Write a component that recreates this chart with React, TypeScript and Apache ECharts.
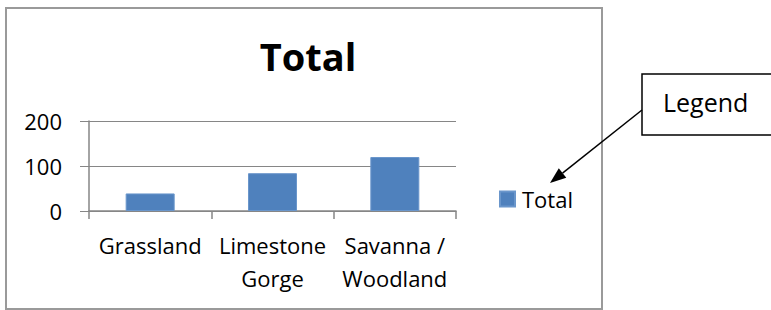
import React, { useEffect, useRef } from "react";
import * as echarts from "echarts";

const categories = ["Grassland", "Limestone\nGorge", "Savanna /\nWoodland"];
const totalValues = [39, 84, 120];
const seriesName = "Total";
const yMin = 0;
const yMax = 200;
const yInterval = 100;

const FONT = "'Open Sans', 'Noto Sans', sans-serif";

export default function App() {
  const ref = useRef<HTMLDivElement>(null);
  useEffect(() => {
    if (!ref.current) return;
    const chart = echarts.init(ref.current, undefined, { renderer: "svg" });
    const dx = 550 - 642;
    const dy = 183 - 110;
    const len = Math.sqrt(dx * dx + dy * dy);
    const ux = dx / len;
    const uy = dy / len;
    const headLen = 16;
    const headHalf = 6;
    const bx = 550 - headLen * ux;
    const by = 183 - headLen * uy;
    const nx = -uy;
    const ny = ux;
    chart.setOption({
      animation: false,
      textStyle: { fontFamily: FONT },
      title: {
        text: "Total",
        left: 303,
        top: 32,
        textAlign: "center",
        textStyle: { fontFamily: FONT, fontSize: 38, fontWeight: "bold", color: "#000" },
      },
      legend: {
        data: [seriesName],
        left: 499,
        top: 188,
        padding: 0,
        itemWidth: 15,
        itemHeight: 15,
        icon: "rect",
        itemGap: 0,
        textStyle: { fontFamily: FONT, fontSize: 22, color: "#000", padding: [0, 0, 0, 2] },
      },
      grid: { left: 89, right: 315, top: 121, bottom: 99, containLabel: false },
      xAxis: {
        type: "category",
        data: categories,
        axisLine: { lineStyle: { color: "#868686", width: 1.5 } },
        axisTick: { show: true, length: 8, lineStyle: { color: "#868686", width: 1.5 } },
        axisLabel: {
          fontFamily: FONT,
          fontSize: 22,
          color: "#000",
          margin: 17,
          lineHeight: 33,
          interval: 0,
        },
      },
      yAxis: {
        type: "value",
        min: yMin,
        max: yMax,
        interval: yInterval,
        axisLine: { show: true, lineStyle: { color: "#868686", width: 1.5 } },
        axisTick: { show: true, length: 9, lineStyle: { color: "#868686", width: 1 } },
        splitLine: { lineStyle: { color: "#868686", width: 1 } },
        axisLabel: { fontFamily: FONT, fontSize: 22, color: "#000", margin: 27 },
      },
      series: [
        {
          name: seriesName,
          type: "bar",
          data: totalValues,
          barWidth: 49,
          itemStyle: { color: "#4F81BD", borderColor: "#6a96cb", borderWidth: 1 },
        },
      ],
      graphic: [
        {
          type: "rect",
          shape: { x: 6, y: 8, width: 596, height: 301 },
          style: { fill: "none", stroke: "#9a9a9a", lineWidth: 2 },
          silent: true,
        },
        {
          type: "rect",
          shape: { x: 642, y: 74, width: 140, height: 61 },
          style: { fill: "#fff", stroke: "#000", lineWidth: 1.5 },
          silent: true,
        },
        {
          type: "text",
          x: 663,
          y: 102,
          style: {
            text: "Legend",
            fontFamily: FONT,
            fontSize: 25,
            fill: "#000",
            verticalAlign: "middle",
            align: "left",
          },
          silent: true,
        },
        {
          type: "line",
          shape: { x1: 642, y1: 110, x2: bx, y2: by },
          style: { stroke: "#000", lineWidth: 1.5 },
          silent: true,
        },
        {
          type: "polygon",
          shape: {
            points: [
              [550, 183],
              [bx + headHalf * nx, by + headHalf * ny],
              [bx - headHalf * nx, by - headHalf * ny],
            ],
          },
          style: { fill: "#000" },
          silent: true,
        },
      ],
    });
    return () => chart.dispose();
  }, []);
  return (
    <div
      ref={ref}
      style={{ position: "fixed", left: 0, top: 0, width: 771, height: 310, background: "#fff" }}
    />
  );
}
